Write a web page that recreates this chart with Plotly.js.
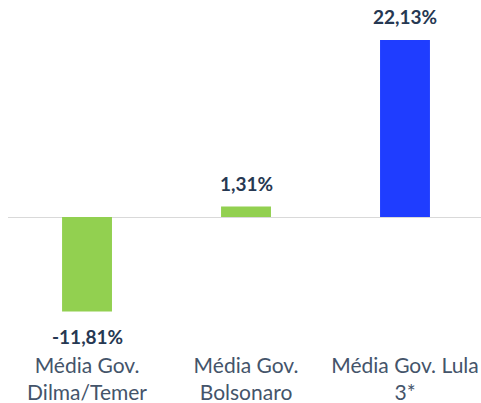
<!DOCTYPE html>
<html>
<head>
<meta charset="utf-8">
<script src="https://cdn.plot.ly/plotly-3.0.1.min.js"></script>
<style>html,body{margin:0;padding:0;background:#fff;}#chart{width:481px;height:403px;}</style>
</head>
<body>
<div id="chart"></div>
<script>
const categories = ["Média Gov.<br>Dilma/Temer", "Média Gov.<br>Bolsonaro", "Média Gov. Lula<br>3*"];
const values = [-11.81, 1.31, 22.13];
const barColors = ["#92D050", "#92D050", "#1F3DFF"];

const annotations = values.map((v, i) => ({
  x: categories[i], y: v,
  text: "<b>" + v.toFixed(2).replace(".", ",") + "%</b>",
  showarrow: false,
  yanchor: v >= 0 ? "bottom" : "top",
  yshift: v >= 0 ? 10 : -12,
  font: {family: "Lato, sans-serif", size: 19, color: "#263852"}
}));

Plotly.newPlot("chart", [{
  type: "bar",
  x: categories,
  y: values,
  marker: {color: barColors},
  hoverinfo: "none"
}], {
  width: 481, height: 403,
  margin: {l: 8, r: 0, t: 0, b: 63},
  paper_bgcolor: "#fff", plot_bgcolor: "#fff",
  bargap: 0.686,
  showlegend: false,
  separators: ",.",
  xaxis: {
    range: [-0.497, 2.478], showgrid: false, showline: false, ticks: "",
    ticklabelstandoff: 11,
    tickfont: {family: "Lato, sans-serif", size: 21, color: "#44546A"}
  },
  yaxis: {
    range: [-15.375, 27.125], showgrid: false, showticklabels: false, ticks: "",
    zeroline: true, zerolinecolor: "#D9D9D9", zerolinewidth: 1
  },
  annotations: annotations
}, {staticPlot: true});
</script>
</body>
</html>
